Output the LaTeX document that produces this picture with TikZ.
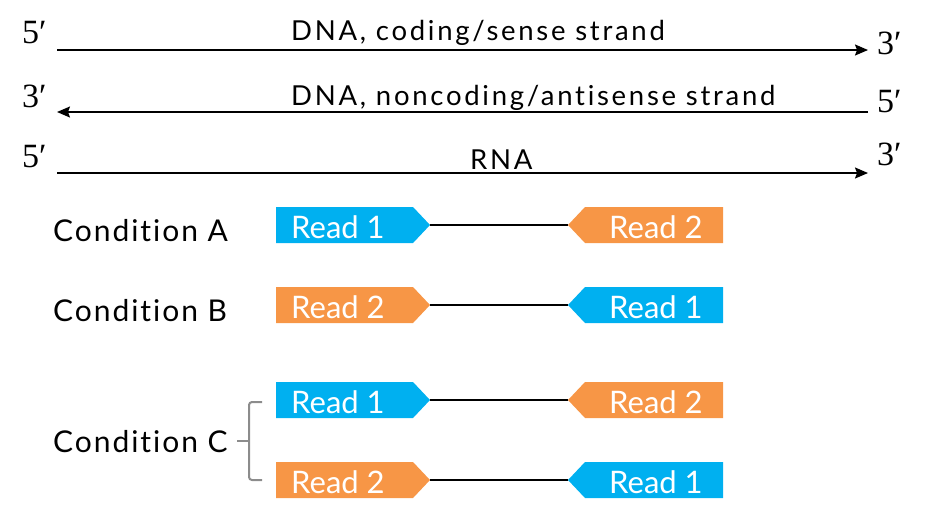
\documentclass[tikz,border=0pt]{standalone}
\usepackage{fontspec}
\setmainfont{Lato}
\newfontfamily\primefont{Liberation Serif}
\newfontfamily\strandfont{Lato}[LetterSpace=9.9,Ligatures={NoCommon,NoRequired}]
\newfontfamily\condfont{Lato}[LetterSpace=6.5,Ligatures={NoCommon,NoRequired}]
\usetikzlibrary{arrows.meta,calc}
\definecolor{rblue}{HTML}{00B0F0}
\definecolor{rorange}{HTML}{F79646}
\definecolor{bgray}{HTML}{8C8C8C}
\begin{document}
\begin{tikzpicture}[x=1pt,y=-1pt,
  strand/.style={line width=1.5pt},
  tipend/.style={-{Stealth[length=13pt,width=11pt,inset=2pt]}},
  endlbl/.style={font=\primefont\fontsize{34}{34}\selectfont, anchor=base west, inner sep=0pt},
  strandlbl/.style={font=\strandfont\fontsize{27.5}{30}\selectfont, anchor=base west, inner sep=0pt},
  condlbl/.style={font=\condfont\fontsize{30}{32}\selectfont, anchor=base west, inner sep=0pt},
  readbody/.style={minimum height=36pt, minimum width=137pt, inner sep=0pt, outer sep=0pt},
  readtxt/.style={font=\fontsize{31}{32}\selectfont, text=white, anchor=base west, inner sep=0pt},
  link/.style={line width=1.5pt},
  bracepath/.style={draw=bgray, line width=2pt, rounded corners=3pt},
]
\useasboundingbox (0,0) rectangle (925,520);

% strands
\coordinate (s1a) at (57,50);  \coordinate (s1b) at (868,50);
\coordinate (s2a) at (57,112); \coordinate (s2b) at (868,112);
\coordinate (s3a) at (57,173); \coordinate (s3b) at (868,173);
\draw[strand,tipend] (s1a) -- (s1b);
\draw[strand,tipend] (s2b) -- (s2a);
\draw[strand,tipend] (s3a) -- (s3b);

\node[endlbl] (l1) at (22,43) {5′};
\node[endlbl] (l2) at (22,107) {3′};
\node[endlbl] (l3) at (22,167) {5′};
\node[endlbl] (r1) at (877,54) {3′};
\node[endlbl] (r2) at (877,112) {5′};
\node[endlbl] (r3) at (877,165) {3′};

\node[strandlbl] (t1) at (291,40) {DNA, coding/sense strand};
\node[strandlbl] (t2) at (291,105) {DNA, noncoding/antisense strand};
\node[strandlbl] (t3) at (470,169) {RNA};

% conditions
\node[condlbl] (ca) at (53,241) {Condition A};
\node[condlbl] (cb) at (53,321) {Condition B};
\node[condlbl] (cc) at (53,452) {Condition C};

% read pairs
\foreach \n/\y/\lc/\lt/\rc/\rt in {a/225/rblue/1/rorange/2, b/305/rorange/2/rblue/1, c/400/rblue/1/rorange/2, d/480/rorange/2/rblue/1}{
  \node[readbody, anchor=west] (\n L) at (276,\y) {};
  \coordinate (\n Lt) at ($(\n L.east)+(17,0)$);
  \fill[\lc] (\n L.north west) -- (\n L.north east) -- (\n Lt) -- (\n L.south east) -- (\n L.south west) -- cycle;
  \node[readtxt] (\n Lx) at (291,\y+13) {Read \lt};
  \node[readbody, minimum width=138pt, anchor=east] (\n R) at (723,\y) {};
  \coordinate (\n Rt) at ($(\n R.west)+(-17,0)$);
  \fill[\rc] (\n R.north east) -- (\n R.north west) -- (\n Rt) -- (\n R.south west) -- (\n R.south east) -- cycle;
  \node[readtxt] (\n Rx) at (609,\y+13) {Read \rt};
  \draw[link] (\n Lt) -- (\n Rt);
}

% brace
\coordinate (bt) at (262,402);
\coordinate (bb) at (262,480);
\coordinate (bm) at (237,441);
\draw[bracepath] (bt) -- (249,402) -- (249,480) -- (bb);
\draw[draw=bgray, line width=2pt] (bm) -- (249,441);
\end{tikzpicture}
\end{document}
